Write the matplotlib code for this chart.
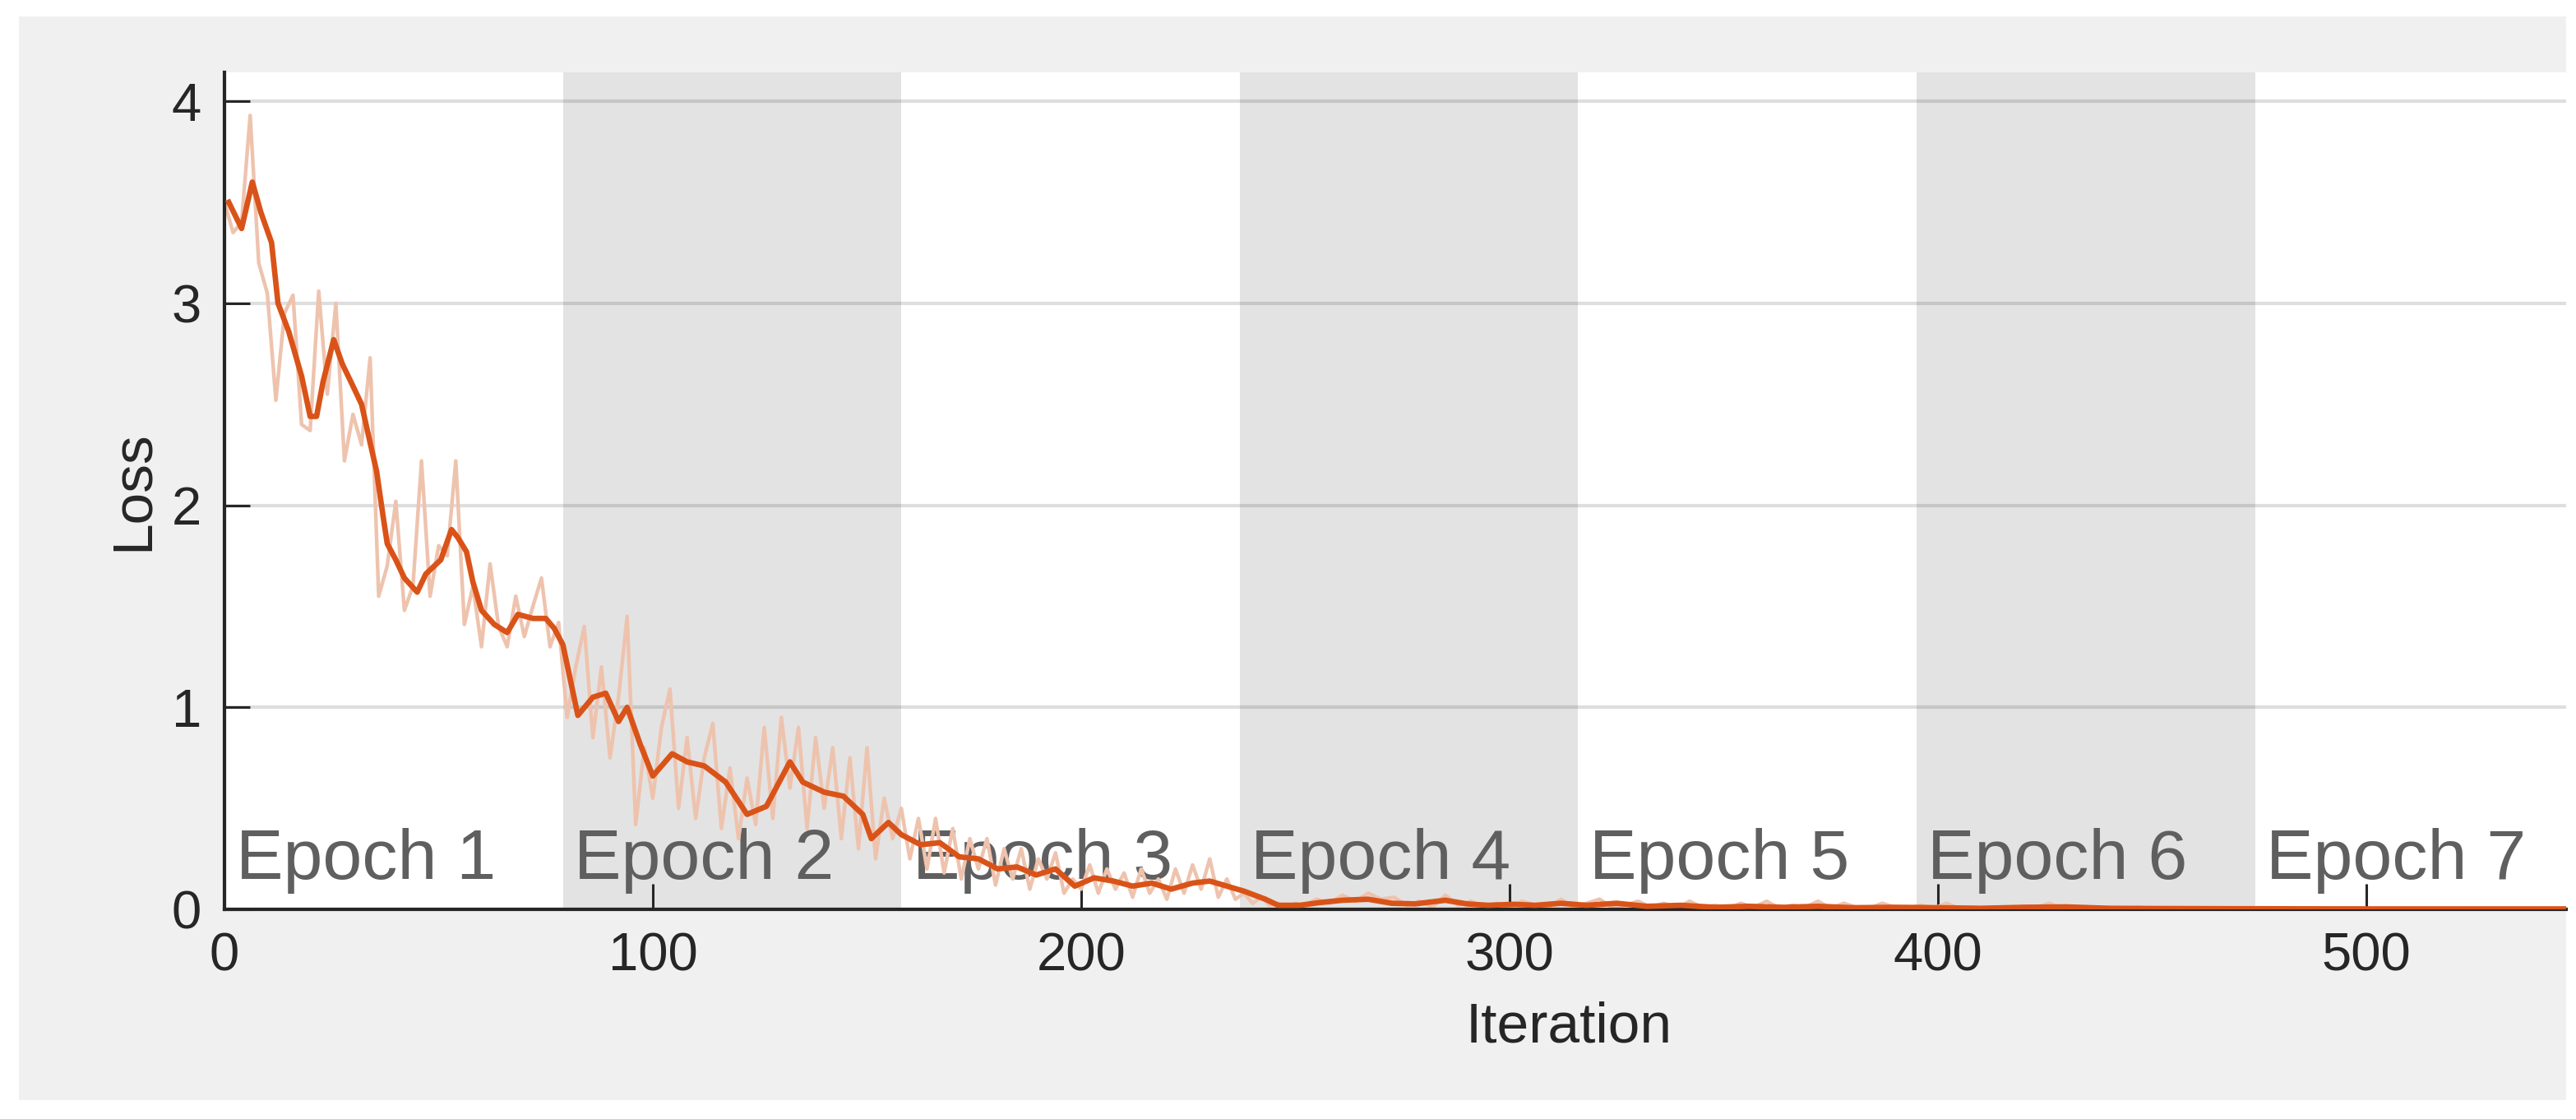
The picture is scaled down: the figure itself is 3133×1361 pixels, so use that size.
import matplotlib
matplotlib.use("Agg")
import matplotlib.pyplot as plt
from matplotlib.patches import Rectangle

# ---------------- data ----------------
epoch_labels = ["Epoch 1", "Epoch 2", "Epoch 3", "Epoch 4", "Epoch 5", "Epoch 6", "Epoch 7"]
iters_per_epoch = 79

x_ticks = [0, 100, 200, 300, 400, 500]
y_ticks = [0, 1, 2, 3, 4]

# raw training loss, every 2 iterations from 0 to 250
raw_early = [3.50, 3.35, 3.40, 3.93, 3.20, 3.05, 2.52, 2.95, 3.04, 2.40,
             2.37, 3.06, 2.55, 3.00, 2.22, 2.45, 2.30, 2.73, 1.55, 1.70,
             2.02, 1.48, 1.60, 2.22, 1.55, 1.80, 1.75, 2.22, 1.41, 1.60,
             1.30, 1.71, 1.40, 1.30, 1.55, 1.35, 1.50, 1.64, 1.30, 1.42,
             0.95, 1.20, 1.40, 0.85, 1.20, 0.75, 1.05, 1.45, 0.42, 0.80,
             0.55, 0.90, 1.09, 0.50, 0.85, 0.45, 0.75, 0.92, 0.40, 0.70,
             0.35, 0.65, 0.42, 0.90, 0.45, 0.95, 0.60, 0.90, 0.40, 0.85,
             0.50, 0.80, 0.35, 0.75, 0.30, 0.80, 0.25, 0.55, 0.35, 0.50,
             0.25, 0.45, 0.20, 0.45, 0.18, 0.40, 0.15, 0.35, 0.20, 0.35,
             0.12, 0.30, 0.15, 0.30, 0.10, 0.25, 0.15, 0.28, 0.08, 0.15,
             0.10, 0.22, 0.08, 0.20, 0.10, 0.18, 0.06, 0.20, 0.08, 0.15,
             0.05, 0.20, 0.08, 0.22, 0.10, 0.25, 0.06, 0.15, 0.05, 0.08,
             0.03, 0.06, 0.02, 0.03, 0.01, 0.03]
# raw training loss, every 3 iterations from 252 to 552
raw_late = [0.02, 0.05, 0.03, 0.07, 0.04, 0.08, 0.05, 0.06, 0.02, 0.04,
            0.01, 0.07, 0.02, 0.04, 0.01, 0.03, 0.01, 0.04, 0.02, 0.01,
            0.05, 0.01, 0.03, 0.05, 0.01, 0.02, 0.04, 0.01, 0.03, 0.005,
            0.04, 0.01, 0.02, 0.005, 0.03, 0.01, 0.04, 0.005, 0.02, 0.01,
            0.04, 0.005, 0.03, 0.01, 0.005, 0.03, 0.01, 0.005, 0.02, 0.005,
            0.03, 0.005, 0.01, 0.005, 0.01, 0.005, 0.005, 0.01, 0.03, 0.005,
            0.01, 0.005, 0.005, 0.005, 0.004, 0.01, 0.003, 0.003, 0.005, 0.003,
            0.003, 0.004, 0.003, 0.003, 0.006, 0.003, 0.003, 0.003, 0.004, 0.003,
            0.003, 0.003, 0.005, 0.003, 0.003, 0.003, 0.004, 0.003, 0.003, 0.003,
            0.003, 0.004, 0.003, 0.003, 0.003, 0.003, 0.003, 0.003, 0.003, 0.003,
            0.003]

smooth_iter = [1, 4, 6.5, 8.5, 11, 12.5, 15, 18, 20, 21.5,
               23, 25.5, 27.5, 30, 32, 34, 35.5, 37, 38, 40,
               42, 45, 47, 50.5, 53, 54.5, 56.5, 58, 60, 63,
               66, 68.5, 72, 75, 77, 79, 82.5, 86, 89, 92,
               94, 97, 100, 104.5, 108, 112, 117, 122, 126.5, 132,
               135, 140, 144.5, 149, 151, 155, 158, 162.5, 167, 171.5,
               176, 180.5, 185, 189.5, 194, 198.5, 203, 207.5, 212, 216.5,
               221, 226, 230, 234, 238, 243, 246, 251, 255.5, 261,
               267, 272.5, 278, 285, 290, 295, 301, 306, 312, 318,
               325, 332, 340, 348, 356, 364, 372, 380, 390, 400,
               410, 420, 430, 440, 450, 470, 500, 520, 553]
smooth_loss = [3.50, 3.37, 3.60, 3.45, 3.30, 3.00, 2.86, 2.64, 2.44, 2.44,
               2.61, 2.82, 2.70, 2.59, 2.50, 2.31, 2.17, 1.95, 1.81, 1.73,
               1.64, 1.57, 1.66, 1.73, 1.88, 1.84, 1.77, 1.62, 1.48, 1.41,
               1.37, 1.46, 1.44, 1.44, 1.39, 1.31, 0.96, 1.05, 1.07, 0.93,
               1.00, 0.82, 0.66, 0.77, 0.73, 0.71, 0.63, 0.47, 0.51, 0.73,
               0.63, 0.58, 0.56, 0.47, 0.35, 0.43, 0.37, 0.32, 0.33, 0.26,
               0.25, 0.20, 0.21, 0.17, 0.20, 0.115, 0.156, 0.14, 0.115, 0.13,
               0.10, 0.13, 0.14, 0.115, 0.09, 0.05, 0.02, 0.02, 0.033, 0.045,
               0.05, 0.03, 0.027, 0.045, 0.027, 0.02, 0.025, 0.02, 0.03, 0.02,
               0.03, 0.015, 0.02, 0.01, 0.015, 0.01, 0.015, 0.008, 0.01, 0.008,
               0.005, 0.01, 0.012, 0.005, 0.004, 0.003, 0.002, 0.002, 0.002]

# ---------------- figure ----------------
W, H = 3133, 1361
DPI = 100
plt.rcParams['font.family'] = ['Liberation Sans', 'DejaVu Sans']

fig = plt.figure(figsize=(W / DPI, H / DPI), dpi=DPI, facecolor='white')

# grey panel
fig.patches.append(Rectangle((23 / W, 1 - 1338 / H), (3121 - 23) / W, (1338 - 20) / H,
                             transform=fig.transFigure, facecolor='#f0f0f0',
                             edgecolor='none', zorder=-10))

ax_l, ax_r, ax_t, ax_b = 273, 3121, 88, 1106
ax = fig.add_axes([ax_l / W, 1 - ax_b / H, (ax_r - ax_l) / W, (ax_b - ax_t) / H])
ax.set_zorder(1)
ax.set_facecolor('white')

xscale = 5.21
xmax = (ax_r - ax_l) / xscale
ax.set_xlim(0, xmax)
ax.set_ylim(0, 4.143)

# epoch bands + labels
for i, lab in enumerate(epoch_labels):
    x0 = i * iters_per_epoch
    if i % 2 == 1:
        ax.axvspan(x0, x0 + iters_per_epoch, color='#e3e3e3', zorder=0.2, lw=0)
    ax.text(x0 + 2.6, 0.15, lab, fontsize=62, color='#5f5f5f',
            ha='left', va='baseline', zorder=1)

# grid
ax.set_axisbelow(True)
ax.yaxis.grid(True, color='#262626', alpha=0.15, lw=3)
ax.xaxis.grid(False)

# curves
raw_x = [2 * i for i in range(len(raw_early))] + [252 + 3 * i for i in range(len(raw_late))]
raw_y = raw_early + raw_late
ax.plot(raw_x, raw_y, color='#eec3ae', lw=3.2, zorder=2)
ax.plot(smooth_iter, smooth_loss, color='#d95319', lw=4.8, zorder=3)

# axes styling
for s in ['top', 'right']:
    ax.spines[s].set_visible(False)
for s in ['left', 'bottom']:
    ax.spines[s].set_color('#262626')
    ax.spines[s].set_linewidth(3)
    ax.spines[s].set_zorder(2.5)

ax.set_xticks(x_ticks)
ax.set_yticks(y_ticks)
ax.tick_params(axis='both', direction='in', length=22, width=2.2, colors='#262626',
               labelsize=47)
ax.tick_params(axis='x', pad=20)
ax.tick_params(axis='y', pad=20)

ax.set_xlabel('Iteration', fontsize=50, color='#262626')
ax.set_ylabel('Loss', fontsize=50, color='#262626')
ax.xaxis.set_label_coords((1908 - ax_l) / (ax_r - ax_l), -(1268 - ax_b) / (ax_b - ax_t))
ax.xaxis.label.set_va('baseline')
ax.yaxis.set_label_coords((162 - ax_l) / (ax_r - ax_l), 0.5)
ax.yaxis.label.set_va('center')

fig.savefig('out.png', dpi=DPI, facecolor='white')
